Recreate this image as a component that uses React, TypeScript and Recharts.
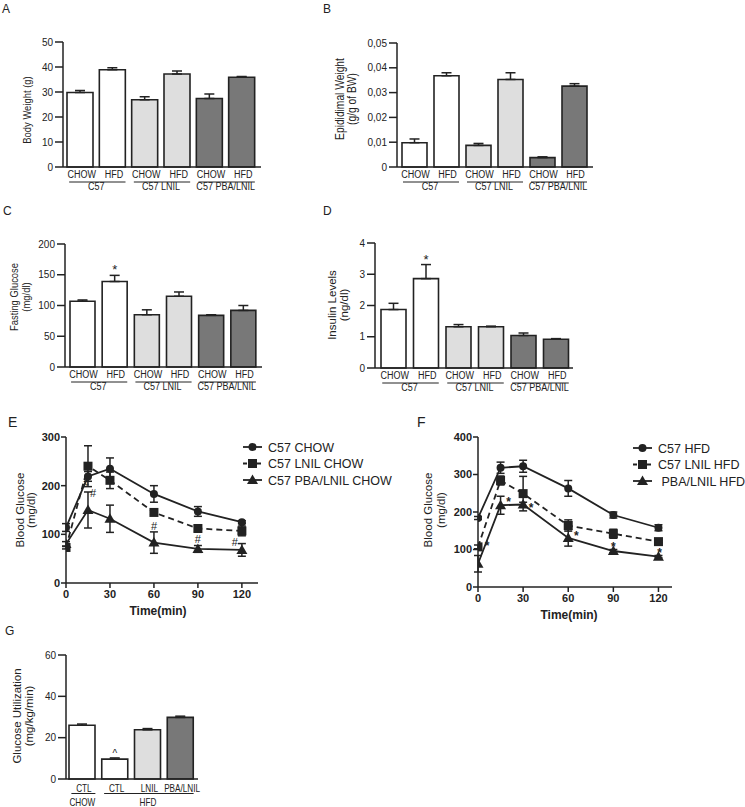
import React from "react";
import {
  BarChart,
  Bar,
  Cell,
  XAxis,
  YAxis,
  ErrorBar,
  LabelList,
  LineChart,
  Line,
} from "recharts";

const INK = "#222";
const SANS = '"Liberation Sans", Arial, Helvetica, sans-serif';
const NARROW_X = 0.82; // Helvetica Narrow look, emulated by squeezing Liberation Sans

// panels A-D
const strains = ["C57", "C57", "C57 LNIL", "C57 LNIL", "C57 PBA/LNIL", "C57 PBA/LNIL"];
const diets = ["CHOW", "HFD", "CHOW", "HFD", "CHOW", "HFD"];

const bodyWeight = [29.8, 38.9, 26.9, 37.2, 27.4, 35.9];
const bodyWeightErr = [0.8, 0.8, 1.2, 1.2, 1.8, 0.3];
const epididimal = [0.0098, 0.0368, 0.0087, 0.0353, 0.0038, 0.0326];
const epididimalErr = [0.0015, 0.0012, 0.0008, 0.0027, 0.0003, 0.001];
const fastingGlucose = [107, 139, 85, 115, 84, 92];
const fastingGlucoseErr = [2, 10, 8, 7, 1, 8];
const fastingGlucoseSig = ["", "*", "", "", "", ""];
const insulin = [1.87, 2.86, 1.32, 1.32, 1.04, 0.92];
const insulinErr = [0.2, 0.45, 0.07, 0.02, 0.08, 0.02];
const insulinSig = ["", "*", "", "", "", ""];

// panel G
const utilDiets = ["CHOW", "HFD", "HFD", "HFD"];
const utilGroups = ["CTL", "CTL", "LNIL", "PBA/LNIL"];
const glucoseUtil = [26, 9.6, 23.8, 29.8];
const glucoseUtilErr = [0.6, 0.6, 0.6, 0.6];
const glucoseUtilSig = ["", "^", "", ""];

// panels E-F (GTT)
const times = [0, 15, 30, 60, 90, 120];
const timeTicks = [0, 30, 60, 90, 120];

const c57Chow = [114, 219, 235, 183, 147, 125];
const c57ChowErr = [8, 10, 22, 17, 10, 3];
const lnilChow = [73, 240, 211, 145, 112, 107];
const lnilChowErr = [3, 42, 17, 4, 6, 10];
const lnilChowSig = ["", "#", "", "", "", ""];
const pbaChow = [80, 150, 132, 83, 70, 68];
const pbaChowErr = [5, 37, 28, 22, 7, 13];
const pbaChowSig = ["", "#", "", "#", "#", "#"];
const chowLegend = ["C57 CHOW", "C57 LNIL CHOW", "C57 PBA/LNIL CHOW"];

const c57Hfd = [184, 318, 322, 263, 192, 158];
const c57HfdErr = [4, 15, 16, 21, 8, 8];
const lnilHfd = [107, 284, 249, 164, 142, 121];
const lnilHfdErr = [5, 12, 46, 15, 12, 3];
const lnilHfdSig = ["*", "", "", "", "", ""];
const pbaHfd = [62, 218, 220, 131, 96, 81];
const pbaHfdErr = [22, 24, 6, 22, 4, 3];
const pbaHfdSig = ["", "*", "*", "*", "*", "*"];
const hfdLegend = ["C57 HFD", "C57 LNIL HFD", "\u00a0PBA/LNIL HFD"];

const FILLS: Record<string, string> = {
  C57: "#ffffff",
  CTL: "#ffffff",
  "C57 LNIL": "#dedede",
  LNIL: "#dedede",
  "C57 PBA/LNIL": "#787878",
  "PBA/LNIL": "#787878",
};

type Row = {
  key: string;
  sub: string;
  group: string;
  value: number;
  err: number;
  errRange: [number, number];
  sig: string;
};

function makeRows(subs: string[], groups: string[], values: number[], errs: number[], sigs?: string[]): Row[] {
  return values.map((v, i) => ({
    key: `${groups[i]}|${subs[i]}|${i}`,
    sub: subs[i],
    group: groups[i],
    value: v,
    err: errs[i],
    errRange: [0, errs[i]],
    sig: sigs ? sigs[i] : "",
  }));
}

// squeezed text, anchored at (x, y)
function NText({ x, y, size, anchor = "middle", dy, children }: any) {
  return (
    <text
      transform={`translate(${x},${y}) scale(${NARROW_X},1)`}
      textAnchor={anchor}
      dy={dy}
      fontSize={size}
      fill={INK}
      fontFamily={SANS}
    >
      {children}
    </text>
  );
}

function BarPanel(props: any) {
  const { left, top, w, h, margin, yWidth, pad, barSize, rows, yMax, yTicks, fmt, fillBy, font = 11, dy = [11, 15, 23] } = props;
  const plotW = w - margin.left - margin.right - yWidth;
  const plotH = h - margin.top - margin.bottom;
  const band = (plotW - pad.left - pad.right) / rows.length;
  const ppu = plotH / yMax;

  const spans: { first: number; last: number; group: string }[] = [];
  rows.forEach((r: Row, i: number) => {
    const s = spans[spans.length - 1];
    if (s && s.group === r.group) s.last = i;
    else spans.push({ first: i, last: i, group: r.group });
  });

  const renderTick = (p: any) => {
    const { x, y, payload } = p;
    const i = rows.findIndex((r: Row) => r.key === payload.value);
    if (i < 0) return <g />;
    const span = spans.find((s) => s.first === i);
    const reach = span ? (span.last - span.first) * band : 0;
    return (
      <g>
        <NText x={x + 1.5} y={y + dy[0]} size={font}>{rows[i].sub}</NText>
        {span && (
          <>
            <line x1={x - 11} x2={x + reach + 13} y1={y + dy[1]} y2={y + dy[1]} stroke={INK} strokeWidth={1} />
            <NText x={x + reach / 2} y={y + dy[2]} size={font}>{span.group}</NText>
          </>
        )}
      </g>
    );
  };

  const renderSig = (p: any) => {
    const vb = p.viewBox || p;
    const value = p.value;
    if (!value) return null;
    const r = rows[p.index];
    const errTop = vb.y - r.err * ppu;
    return (
      <text x={vb.x + vb.width / 2} y={errTop - 1} textAnchor="middle" fontSize={value === "^" ? 10 : 13} fill={INK} fontFamily={SANS}>
        {value}
      </text>
    );
  };

  return (
    <div style={{ position: "absolute", left, top }}>
      <BarChart width={w} height={h} data={rows} margin={{ ...margin, bottom: 0 }}>
        <XAxis
          dataKey="key"
          type="category"
          height={margin.bottom}
          interval={0}
          tick={renderTick}
          tickLine={false}
          tickSize={0}
          tickMargin={0}
          padding={pad}
          axisLine={{ stroke: INK, strokeWidth: 1.5 }}
        />
        <YAxis
          type="number"
          width={yWidth}
          domain={[0, yMax]}
          ticks={yTicks}
          interval={0}
          tickFormatter={fmt}
          tickSize={8}
          tickMargin={2}
          tick={{ fontSize: 10, fill: INK, fontFamily: SANS }}
          tickLine={{ stroke: INK, strokeWidth: 1.5 }}
          axisLine={{ stroke: INK, strokeWidth: 1.5 }}
        />
        <Bar dataKey="value" barSize={barSize} stroke={INK} strokeWidth={1.6} isAnimationActive={false}>
          {rows.map((r: Row) => (
            <Cell key={r.key} fill={FILLS[fillBy(r)]} />
          ))}
          <ErrorBar dataKey="errRange" width={5} stroke={INK} strokeWidth={1.5} direction="y" />
          <LabelList dataKey="sig" content={renderSig} />
        </Bar>
      </BarChart>
    </div>
  );
}

function Marker({ shape, cx, cy }: { shape: string; cx: number; cy: number }) {
  if (shape === "circle") return <circle cx={cx} cy={cy} r={4} fill={INK} />;
  if (shape === "square") return <rect x={cx - 4.5} y={cy - 4.5} width={9} height={9} fill={INK} />;
  return <polygon points={`${cx},${cy - 5.5} ${cx + 5.5},${cy + 4} ${cx - 5.5},${cy + 4}`} fill={INK} />;
}

const SERIES = [
  { key: "c57", shape: "circle", dashed: false },
  { key: "lnil", shape: "square", dashed: true },
  { key: "pba", shape: "triangle", dashed: false },
];

function LinePanel(props: any) {
  const { left, top, w, h, margin, yWidth, yMax, yTicks, xMax, rows, sigAt, sigFont, sigShift, sigBold } = props;
  const renderSig = (key: string) => (p: any) => {
    const vb = p.viewBox || p;
    if (!p.value) return null;
    const off = (sigAt[key] || {})[p.index] || [0, -10];
    return (
      <text
        x={vb.x + off[0]}
        y={vb.y + off[1] + sigShift}
        textAnchor="middle"
        fontSize={sigFont}
        fontWeight={sigBold ? "bold" : "normal"}
        fill={INK}
        fontFamily={SANS}
      >
        {p.value}
      </text>
    );
  };
  return (
    <div style={{ position: "absolute", left, top }}>
      <LineChart width={w} height={h} data={rows} margin={{ ...margin, bottom: 0 }}>
        <XAxis
          type="number"
          dataKey="t"
          height={margin.bottom}
          domain={[0, xMax]}
          ticks={timeTicks}
          interval={0}
          allowDataOverflow
          tickSize={5}
          tickMargin={2}
          tick={{ fontSize: 11, fontWeight: "bold", fill: INK, fontFamily: SANS }}
          tickLine={{ stroke: INK, strokeWidth: 1.5 }}
          axisLine={{ stroke: INK, strokeWidth: 1.5 }}
        />
        <YAxis
          type="number"
          width={yWidth}
          domain={[0, yMax]}
          ticks={yTicks}
          interval={0}
          allowDataOverflow
          tickSize={5}
          tickMargin={1}
          tick={{ fontSize: 11, fontWeight: "bold", fill: INK, fontFamily: SANS }}
          tickLine={{ stroke: INK, strokeWidth: 1.5 }}
          axisLine={{ stroke: INK, strokeWidth: 1.5 }}
        />
        {SERIES.map((s) => (
          <Line
            key={s.key}
            type="linear"
            dataKey={s.key}
            stroke={INK}
            strokeWidth={1.8}
            strokeDasharray={s.dashed ? "6 4" : undefined}
            isAnimationActive={false}
            dot={(p: any) => <Marker key={`${s.key}-${p.index}`} shape={s.shape} cx={p.cx} cy={p.cy} />}
            activeDot={false}
          >
            <ErrorBar dataKey={`${s.key}Err`} width={4} stroke={INK} strokeWidth={1.5} direction="y" />
            <LabelList dataKey={`${s.key}Sig`} content={renderSig(s.key)} />
          </Line>
        ))}
      </LineChart>
    </div>
  );
}

function SeriesLegend({ left, top, labels }: { left: number; top: number; labels: string[] }) {
  return (
    <svg style={{ position: "absolute", left, top }} width={150} height={52}>
      {labels.map((label, i) => (
        <g key={label} transform={`translate(0, ${6 + i * 16.5})`}>
          <line x1={0} x2={19} y1={0} y2={0} stroke={INK} strokeWidth={1.8} strokeDasharray={SERIES[i].dashed ? "4 3" : undefined} />
          <Marker shape={SERIES[i].shape} cx={9.5} cy={0} />
          <text x={25} y={4.5} fontSize={12.5} fill={INK} fontFamily={SANS}>
            {label}
          </text>
        </g>
      ))}
    </svg>
  );
}

function VText({ x, y, children, size, narrow }: any) {
  return (
    <text
      transform={`translate(${x},${y}) rotate(-90) scale(${narrow ? NARROW_X : 1},1)`}
      textAnchor="middle"
      dominantBaseline="central"
      fontSize={size}
      fill={INK}
      fontFamily={SANS}
    >
      {children}
    </text>
  );
}

const commaFmt = (v: number) => (v === 0 ? "0" : v.toFixed(2).replace(".", ","));

export default function App() {
  const aRows = makeRows(diets, strains, bodyWeight, bodyWeightErr);
  const bRows = makeRows(diets, strains, epididimal, epididimalErr);
  const cRows = makeRows(diets, strains, fastingGlucose, fastingGlucoseErr, fastingGlucoseSig);
  const dRows = makeRows(diets, strains, insulin, insulinErr, insulinSig);
  const gRows = makeRows(utilGroups, utilDiets, glucoseUtil, glucoseUtilErr, glucoseUtilSig);

  const eRows = times.map((t, i) => ({
    t,
    c57: c57Chow[i],
    c57Err: c57ChowErr[i],
    c57Sig: "",
    lnil: lnilChow[i],
    lnilErr: lnilChowErr[i],
    lnilSig: lnilChowSig[i],
    pba: pbaChow[i],
    pbaErr: pbaChowErr[i],
    pbaSig: pbaChowSig[i],
  }));
  const fRows = times.map((t, i) => ({
    t,
    c57: c57Hfd[i],
    c57Err: c57HfdErr[i],
    c57Sig: "",
    lnil: lnilHfd[i],
    lnilErr: lnilHfdErr[i],
    lnilSig: lnilHfdSig[i],
    pba: pbaHfd[i],
    pbaErr: pbaHfdErr[i],
    pbaSig: pbaHfdSig[i],
  }));

  const byStrain = (r: Row) => r.group;
  const byTreat = (r: Row) => r.sub;

  return (
    <div style={{ position: "absolute", left: 0, top: 0, width: 745, height: 807, background: "#fff", overflow: "hidden" }}>
      <BarPanel left={0} top={30} w={270} h={165} margin={{ top: 12, right: 9, bottom: 28, left: 0 }} yWidth={63}
        pad={{ left: 1, right: 3 }} barSize={26} rows={aRows} yMax={50} yTicks={[0, 10, 20, 30, 40, 50]}
        fillBy={byStrain} />
      <BarPanel left={330} top={30} w={270} h={165} margin={{ top: 13, right: 7, bottom: 28, left: 0 }} yWidth={67}
        pad={{ left: 1, right: 3 }} barSize={25} rows={bRows} yMax={0.05} yTicks={[0, 0.01, 0.02, 0.03, 0.04, 0.05]}
        fmt={commaFmt} fillBy={byStrain} />
      <BarPanel left={0} top={230} w={270} h={165} margin={{ top: 14, right: 8, bottom: 28, left: 0 }} yWidth={65}
        pad={{ left: 1, right: 3 }} barSize={25} rows={cRows} yMax={200} yTicks={[0, 50, 100, 150, 200]}
        fillBy={byStrain} />
      <BarPanel left={330} top={230} w={270} h={165} margin={{ top: 13, right: 27, bottom: 27, left: 0 }} yWidth={45}
        pad={{ left: 2, right: 1 }} barSize={25} rows={dRows} yMax={4} yTicks={[0, 1, 2, 3, 4]}
        fillBy={byStrain} />
      <BarPanel left={0} top={640} w={220} h={167} margin={{ top: 15, right: 22, bottom: 28, left: 0 }} yWidth={66}
        pad={{ left: 0, right: 1 }} barSize={26} rows={gRows} yMax={60} yTicks={[0, 20, 40, 60]}
        fillBy={byTreat} font={10} dy={[13, 14.5, 27]} />

      <LinePanel left={0} top={420} w={262} h={200} margin={{ top: 17, right: 4, bottom: 37, left: 0 }} yWidth={66}
        yMax={300} yTicks={[0, 100, 200, 300]} xMax={131} rows={eRows}
        sigAt={{ lnil: { 1: [-2, 17] }, pba: { 1: [5, -17], 3: [0, -17], 4: [0, -10], 5: [-7, -8] } }}
        sigFont={11} sigShift={4} sigBold={false} />
      <LinePanel left={400} top={420} w={290} h={200} margin={{ top: 17, right: 18, bottom: 33, left: 0 }} yWidth={78}
        yMax={400} yTicks={[0, 100, 200, 300, 400]} xMax={129} rows={fRows}
        sigAt={{ lnil: { 0: [9, -4] }, pba: { 1: [8, -6], 2: [8, 0], 3: [8, -5], 4: [0, -7], 5: [1, -7] } }}
        sigFont={12} sigShift={7} sigBold />

      <SeriesLegend left={243} top={441} labels={chowLegend} />
      <SeriesLegend left={633} top={442} labels={hfdLegend} />

      <svg width={745} height={807} style={{ position: "absolute", left: 0, top: 0, pointerEvents: "none" }}>
        <g fontFamily={SANS} fill={INK}>
          <text x={2} y={13} fontSize={12}>A</text>
          <text x={323} y={13} fontSize={12}>B</text>
          <text x={3} y={215} fontSize={12}>C</text>
          <text x={323} y={215} fontSize={12}>D</text>
          <text x={8} y={427} fontSize={14}>E</text>
          <text x={417} y={427} fontSize={14}>F</text>
          <text x={5} y={635} fontSize={12}>G</text>
          <text x={158} y={615} fontSize={12} fontWeight="bold" textAnchor="middle">Time(min)</text>
          <text x={569} y={619} fontSize={12} fontWeight="bold" textAnchor="middle">Time(min)</text>
        </g>
        <VText x={27} y={110} size={11.5} narrow>Body Weight (g)</VText>
        <VText x={340} y={99} size={12.5} narrow>Epididimal Weight</VText>
        <VText x={352} y={99} size={12.5} narrow>(g/g of BW)</VText>
        <VText x={14} y={297} size={11.5} narrow>Fasting Glucose</VText>
        <VText x={26} y={297} size={11.5} narrow>(mg/dl)</VText>
        <VText x={332} y={305} size={11.5}>Insulin Levels</VText>
        <VText x={344} y={305} size={11.5}>(ng/dl)</VText>
        <VText x={20} y={510} size={11.5}>Blood Glucose</VText>
        <VText x={31} y={510} size={11.5}>(mg/dl)</VText>
        <VText x={428} y={510} size={11.5}>Blood Glucose</VText>
        <VText x={441} y={510} size={11.5}>(mg/dl)</VText>
        <VText x={17} y={716} size={11.5}>Glucose Utilization</VText>
        <VText x={29} y={716} size={11.5}>(mg/kg/min)</VText>
      </svg>
    </div>
  );
}
